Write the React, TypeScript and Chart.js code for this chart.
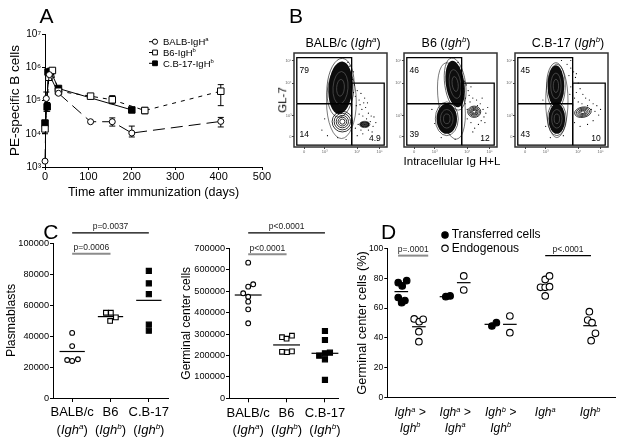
import React, { useEffect, useRef } from 'react';
import { Chart, registerables } from 'chart.js';

Chart.register(...registerables);

const FONT = "'Liberation Sans', Arial, Helvetica, sans-serif";
Chart.defaults.font.family = FONT;
Chart.defaults.color = '#000';

/* ====================== DATA ====================== */
// ---- Panel A : PE-specific B cells over time
const aSeriesNames = ['BALB-IgH', 'B6-IgH', 'C.B-17-IgH'];
const aSeriesSup = ['a', 'b', 'b'];
const aXTicks = [0, 100, 200, 300, 400, 500];
const aYTicks = [1e3, 1e4, 1e5, 1e6, 1e7];
const aBalbDays = [0, 3, 10, 31, 105, 155, 200, 405];
const aBalbVals = [1500, 115000, 600000, 165000, 23000, 23000, 10500, 23500];
const aBalbErrLo = [null, 48000, null, null, null, 17000, 8000, 16000];
const aBalbErrHi = [null, 180000, null, null, null, 30000, 17000, 31000];
const aB6Days = [0, 9, 17, 31, 105, 155, 230, 405];
const aB6Vals = [14000, 500000, 800000, 190000, 135000, 105000, 50000, 190000];
const aB6ErrLo = [10000, null, null, null, null, 80000, 40000, 70000];
const aB6ErrHi = [19000, null, null, null, null, 140000, 62000, 300000];
const aCb17Days = [0, 5, 7, 13, 31, 200];
const aCb17Vals = [21000, 65000, 720000, 750000, 230000, 52000];
const aCb17ErrLo = [13000, 47000, null, null, null, null];
const aCb17ErrHi = [null, 87000, null, null, null, null];

// ---- Panel B : flow cytometry (GL-7 vs intracellular Ig), arbitrary 0-100 units
const flowTitles = [
  { name: 'BALB/c', allele: 'a' },
  { name: 'B6', allele: 'b' },
  { name: 'C.B-17', allele: 'b' },
];
const flowGateTop = [[3, 46], [3, 95], [62, 95], [62, 46], [3, 46]];
const flowGateBottom = [[3, 46], [3, 2], [62, 2], [62, 46]];
const flowGateRight = [[62, 2], [62, 68], [97, 68], [97, 2], [62, 2]];
const flowTickPos = [11, 33, 68, 92];
const flowTickLabels = ['0', '10³', '10⁴', '10⁵'];
const flowPercents = [
  ['79', '14', '4.9'],
  ['46', '39', '12'],
  ['45', '43', '10'],
];
// [cx, cy, rx, ry, rotationDeg, kind(0 rings, 1 dense, 2 outline)]
const flowBlobs1 = [[51, 48, 16, 39, 0, 2], [50, 63, 13, 28, 4, 1], [52, 27, 11, 11, 0, 0], [76, 24, 5, 3, 0, 1]];
const flowBlobs2 = [[51, 49, 14, 41, -8, 2], [55, 67, 10, 25, -8, 1], [46, 30, 11, 16, 0, 1], [75.5, 37.5, 7, 6, 0, 0]];
const flowBlobs3 = [[45, 49, 12, 39, 0, 2], [44, 65, 9, 22, 0, 1], [45, 30, 9, 16, 0, 1], [73, 37, 9, 5.5, -10, 0]];
const flowDots1 = [[63, 72], [65, 66], [68, 60], [66, 54], [70, 50], [72, 57], [75, 47], [73, 40], [77, 42], [80, 36], [78, 30], [82, 27], [85, 22], [80, 18], [74, 14], [68, 12], [86, 32], [88, 26], [70, 35], [76, 52], [64, 80], [60, 86], [58, 90], [33, 30], [30, 18], [36, 12], [47, 10], [56, 8], [62, 14], [66, 20], [67, 44], [71, 45], [79, 47], [83, 33], [74, 33], [69, 24], [72, 18], [64, 58], [61, 64], [84, 16]];
const flowDots2 = [[63, 75], [65, 70], [67, 66], [64, 62], [69, 60], [72, 64], [70, 55], [66, 52], [74, 52], [78, 50], [82, 46], [85, 40], [86, 32], [83, 28], [80, 24], [72, 26], [68, 30], [76, 20], [88, 36], [90, 42], [60, 85], [58, 90], [30, 40], [33, 25], [40, 10], [55, 8], [66, 46], [68, 40], [71, 48], [64, 56], [62, 80], [79, 44], [84, 52], [87, 26], [74, 16]];
const flowDots3 = [[56, 88], [60, 84], [63, 80], [58, 76], [65, 74], [62, 70], [68, 68], [70, 62], [66, 58], [73, 56], [76, 52], [80, 50], [84, 46], [88, 44], [86, 38], [90, 34], [84, 28], [78, 24], [70, 22], [64, 26], [92, 40], [60, 92], [50, 92], [30, 50], [33, 22], [38, 10], [52, 12], [60, 64], [64, 52], [68, 48], [72, 46], [62, 44], [59, 56], [82, 40], [78, 44], [66, 78]];
const flowBlobs = [flowBlobs1, flowBlobs2, flowBlobs3];
const flowDots = [flowDots1, flowDots2, flowDots3];

// ---- Panel C : plasmablasts & germinal center cells
const cCategories = ['BALB/c', 'B6', 'C.B-17'];
const cAlleles = ['a', 'b', 'b'];
const cPlasmaBalb = [42000, 33500, 24500, 23900, 25000];
const cPlasmaBalbJit = [0, 0, -0.13, 0, 0.15];
const cPlasmaB6 = [55000, 55000, 52000, 49700];
const cPlasmaB6Jit = [-0.12, 0.01, 0.14, -0.01];
const cPlasmaCb17 = [82000, 74000, 67000, 47300, 43400];
const cPlasmaCb17Jit = [0, 0, 0, 0, 0];
const cPlasmaMeans = [30000, 52500, 63000];
const cPlasmaSigLabels = ['p=0.0037', 'p=0.0006'];
const cPlasmaSigFrom = [1, 1];
const cPlasmaSigTo = [3, 2];
const cPlasmaSigY = [106500, 93000];

const cGcBalb = [633000, 532000, 521000, 490000, 474000, 451000, 415000, 350000];
const cGcBalbJit = [0, 0.13, 0, -0.13, 0, 0, 0, 0];
const cGcB6 = [285000, 278000, 292000, 217000, 215000, 219000];
const cGcB6Jit = [-0.12, 0, 0.14, -0.12, 0.01, 0.14];
const cGcCb17 = [314000, 272000, 199000, 210000, 213000, 182000, 86000];
const cGcCb17Jit = [0, 0, -0.15, 0, 0.13, 0, 0];
const cGcMeans = [482000, 249000, 210000];
const cGcSigLabels = ['p<0.0001', 'p<0.0001'];
const cGcSigFrom = [1, 1];
const cGcSigTo = [3, 2];
const cGcSigY = [772000, 672000];

// ---- Panel D : germinal center cells (%)
const dLegendLabels = ['Transferred cells', 'Endogenous'];
const dGroupAlleles = [['a', 'b'], ['a', 'a'], ['b', 'b'], ['a', ''], ['b', '']];
const dPositions = [0.78, 1.76, 3.3, 4.26, 5.8, 6.83, 8.8, 11.3];
const dTransAB = [77.0, 78.3, 74.8, 67.0, 65.0, 63.6];
const dTransABJit = [-0.17, 0.3, 0.05, -0.17, 0.2, 0.02];
const dEndoAB = [52.7, 50.9, 52.5, 44.2, 37.5];
const dEndoABJit = [-0.26, 0.02, 0.24, 0, 0];
const dTransAA = [67.6, 68.1];
const dTransAAJit = [-0.04, 0.2];
const dEndoAA = [81.5, 72.1];
const dEndoAAJit = [0, 0];
const dTransBB = [48.0, 50.2];
const dTransBBJit = [0.03, 0.28];
const dEndoBB = [54.7, 43.5];
const dEndoBBJit = [0, 0];
const dIgha = [79.2, 81.5, 73.9, 73.9, 74.3, 68.1];
const dIghaJit = [0, 0.24, -0.26, 0, 0.24, 0];
const dIghb = [57.6, 52.0, 50.2, 43.1, 38.2];
const dIghbJit = [-0.04, -0.13, 0.11, 0.3, 0.06];
const dMeans = [71.0, 47.5, 67.6, 77.0, 49.1, 49.1, 75.2, 48.2];
const dSigLabels = ['p=.0001', 'p<.0001'];
const dSigFrom = [0.6, 8.8];
const dSigTo = [2.28, 11.35];
const dSigY = [95.1, 95.1];

/* ====================== HELPERS ====================== */
type Seg = { t: string; sup?: boolean; it?: boolean };
const SUPS = '⁰¹²³⁴⁵⁶⁷⁸⁹';

function segFont(size: number, s: Seg) {
  const sz = s.sup ? size * 0.62 : size;
  return `${s.it ? 'italic ' : ''}${sz}px ${FONT}`;
}

function drawRich(ctx: CanvasRenderingContext2D, segs: Seg[], x: number, y: number, size: number, align: 'left' | 'center' | 'right', color = '#000') {
  ctx.save();
  ctx.textBaseline = 'alphabetic';
  ctx.textAlign = 'left';
  ctx.fillStyle = color;
  let w = 0;
  for (const s of segs) {
    ctx.font = segFont(size, s);
    w += ctx.measureText(s.t).width;
  }
  let cx = align === 'left' ? x : align === 'center' ? x - w / 2 : x - w;
  for (const s of segs) {
    ctx.font = segFont(size, s);
    ctx.fillText(s.t, cx, s.sup ? y - size * 0.38 : y);
    cx += ctx.measureText(s.t).width;
  }
  ctx.restore();
}

function marker(ctx: CanvasRenderingContext2D, kind: string, x: number, y: number, r: number, fill: string, lw = 1) {
  ctx.save();
  ctx.beginPath();
  if (kind === 'circle') ctx.arc(x, y, r, 0, Math.PI * 2);
  else ctx.rect(x - r, y - r, 2 * r, 2 * r);
  ctx.fillStyle = fill;
  ctx.fill();
  ctx.lineWidth = lw;
  ctx.strokeStyle = '#000';
  ctx.stroke();
  ctx.restore();
}

function fixedTicks(vals: number[]) {
  return (s: any) => {
    s.ticks = vals.map((v) => ({ value: v }));
  };
}

/* ====================== PANEL A ====================== */
function makeA() {
  const ds = (i: number, days: number[], vals: number[], lo: any[], hi: any[], style: string, fill: string, dash: number[], r: number) => ({
    label: aSeriesNames[i],
    data: days.map((d, k) => ({ x: d, y: vals[k] })),
    errLo: lo,
    errHi: hi,
    borderColor: '#000',
    borderWidth: 1,
    borderDash: dash,
    pointStyle: style,
    pointRadius: r,
    pointBackgroundColor: fill,
    pointBorderColor: '#000',
    pointBorderWidth: 1,
    tension: 0,
    fill: false,
    clip: false,
  });
  const errorBars = {
    id: 'errA',
    beforeDatasetsDraw(chart: any) {
      const ctx = chart.ctx;
      const ys = chart.scales.y;
      chart.data.datasets.forEach((d: any, i: number) => {
        const meta = chart.getDatasetMeta(i);
        meta.data.forEach((pt: any, j: number) => {
          const lo = d.errLo[j];
          const hi = d.errHi[j];
          if (lo == null && hi == null) return;
          ctx.save();
          ctx.strokeStyle = '#000';
          ctx.lineWidth = 1;
          ctx.beginPath();
          for (const v of [lo, hi]) {
            if (v == null) continue;
            const yy = ys.getPixelForValue(v);
            ctx.moveTo(pt.x, pt.y);
            ctx.lineTo(pt.x, yy);
            ctx.moveTo(pt.x - 3, yy);
            ctx.lineTo(pt.x + 3, yy);
          }
          ctx.stroke();
          ctx.restore();
        });
      });
    },
  };
  const legend = {
    id: 'legA',
    afterDraw(chart: any) {
      const ctx = chart.ctx;
      const { left, top } = chart.chartArea;
      chart.data.datasets.forEach((d: any, i: number) => {
        const y = top + 7.7 + i * 10.8;
        const mx = left + 110;
        ctx.save();
        ctx.strokeStyle = '#000';
        ctx.lineWidth = 1;
        ctx.beginPath();
        ctx.moveTo(mx - 6, y);
        ctx.lineTo(mx, y);
        ctx.stroke();
        ctx.restore();
        marker(ctx, d.pointStyle, mx, y, d.pointStyle === 'circle' ? 2.6 : 2.4, d.pointBackgroundColor);
        drawRich(ctx, [{ t: aSeriesNames[i] }, { t: aSeriesSup[i], sup: true }], mx + 8, y + 3.4, 9.5, 'left');
      });
    },
  };
  return {
    type: 'line',
    data: {
      datasets: [
        ds(0, aBalbDays, aBalbVals, aBalbErrLo, aBalbErrHi, 'circle', '#fff', [12, 6], 3),
        ds(1, aB6Days, aB6Vals, aB6ErrLo, aB6ErrHi, 'rect', '#fff', [4, 5], 4.6),
        ds(2, aCb17Days, aCb17Vals, aCb17ErrLo, aCb17ErrHi, 'rect', '#000', [], 4.6),
      ],
    },
    options: {
      responsive: false,
      animation: false,
      events: [],
      layout: { padding: { left: 0, top: 34, right: 18, bottom: 0 } },
      plugins: { legend: { display: false }, tooltip: { enabled: false } },
      scales: {
        x: {
          type: 'linear',
          min: 0,
          max: 500,
          afterBuildTicks: fixedTicks(aXTicks),
          ticks: { font: { size: 11 }, padding: 0, maxRotation: 0, autoSkip: false, callback: (v: any) => String(v) },
          grid: { drawOnChartArea: false, tickLength: 3, color: '#000' },
          border: { color: '#000', width: 1 },
          title: { display: true, text: 'Time after immunization (days)', font: { size: 12.5 }, padding: { top: 0, bottom: 0 } },
          afterFit: (s: any) => { s.height = 33; },
        },
        y: {
          type: 'logarithmic',
          min: 1e3,
          max: 1e7,
          afterBuildTicks: fixedTicks(aYTicks),
          ticks: { font: { size: 10 }, padding: 1, callback: (v: any) => '10' + SUPS[Math.round(Math.log10(v))] },
          grid: { drawOnChartArea: false, tickLength: 3, color: '#000' },
          border: { color: '#000', width: 1 },
          title: { display: true, text: 'PE-specific B cells', font: { size: 13.5 }, padding: { top: 7, bottom: 0 } },
          afterFit: (s: any) => { s.width = 45; },
        },
      },
    },
    plugins: [errorBars, legend],
  };
}

/* ====================== PANEL B ====================== */
function makeFlow(idx: number) {
  const blobs = flowBlobs[idx];
  const pcts = flowPercents[idx];
  const gate = (pts: number[][]) => ({
    type: 'line',
    data: pts.map((p) => ({ x: p[0], y: p[1] })),
    borderColor: '#000',
    borderWidth: 1.3,
    pointRadius: 0,
    showLine: true,
    clip: false,
  });
  const blobPlugin = {
    id: 'blobs',
    beforeDatasetsDraw(chart: any) {
      const xs = chart.scales.x;
      const ys = chart.scales.y;
      const ctx = chart.ctx;
      for (const [cx, cy, rx, ry, rot, kind] of blobs) {
        const px = xs.getPixelForValue(cx);
        const py = ys.getPixelForValue(cy);
        const prx = Math.abs(xs.getPixelForValue(cx + rx) - px);
        const pry = Math.abs(ys.getPixelForValue(cy + ry) - py);
        const a = (rot * Math.PI) / 180;
        const ell = (s: number) => {
          ctx.beginPath();
          ctx.ellipse(px, py, prx * s, pry * s, a, 0, Math.PI * 2);
        };
        ctx.save();
        if (kind === 1) {
          ctx.strokeStyle = '#000';
          ctx.lineWidth = 0.6;
          ell(1.12); ctx.stroke();
          ell(1); ctx.fillStyle = '#0d0d0d'; ctx.fill();
          ctx.strokeStyle = '#666';
          ctx.lineWidth = 0.6;
          ell(0.62); ctx.stroke();
          ell(0.32); ctx.stroke();
        } else if (kind === 0) {
          ctx.strokeStyle = '#000';
          ctx.lineWidth = 0.8;
          for (const s of [1, 0.8, 0.6, 0.42, 0.25]) { ell(s); ctx.stroke(); }
        } else {
          ctx.strokeStyle = '#222';
          ctx.lineWidth = 0.6;
          ell(1); ctx.stroke();
        }
        ctx.restore();
      }
    },
  };
  const framePlugin = {
    id: 'frame',
    afterDraw(chart: any) {
      const ctx = chart.ctx;
      const { left, top, width, height } = chart.chartArea;
      const xs = chart.scales.x;
      const ys = chart.scales.y;
      ctx.save();
      ctx.strokeStyle = '#333';
      ctx.lineWidth = 1.5;
      ctx.strokeRect(left, top, width, height);
      ctx.font = `8.5px ${FONT}`;
      ctx.fillStyle = '#000';
      ctx.textBaseline = 'middle';
      ctx.textAlign = 'left';
      ctx.fillText(pcts[0], xs.getPixelForValue(6), ys.getPixelForValue(81));
      ctx.fillText(pcts[1], xs.getPixelForValue(6), ys.getPixelForValue(13));
      ctx.textAlign = 'center';
      ctx.fillText(pcts[2], xs.getPixelForValue(87), ys.getPixelForValue(9));
      ctx.restore();
    },
  };
  const tickCfg = {
    font: { size: 4 },
    color: '#666',
    padding: 0.5,
    autoSkip: false,
    maxRotation: 0,
    callback: (_v: any, i: number) => flowTickLabels[i],
  };
  return {
    type: 'scatter',
    data: {
      datasets: [
        {
          data: flowDots[idx].map((p) => ({ x: p[0], y: p[1] })),
          pointRadius: 0.6,
          pointBorderWidth: 0,
          pointBackgroundColor: '#000',
          clip: false,
        },
        gate(flowGateTop),
        gate(flowGateBottom),
        gate(flowGateRight),
      ],
    },
    options: {
      responsive: false,
      animation: false,
      events: [],
      layout: { padding: { left: 0, top: 8, right: 3, bottom: 0 } },
      plugins: { legend: { display: false }, tooltip: { enabled: false } },
      scales: {
        x: {
          type: 'linear', min: 0, max: 100,
          afterBuildTicks: fixedTicks(flowTickPos),
          ticks: tickCfg,
          grid: { drawOnChartArea: false, tickLength: 2, color: '#444' },
          border: { display: false },
          afterFit: (s: any) => { s.height = 10; },
        },
        y: {
          type: 'linear', min: 0, max: 100,
          afterBuildTicks: fixedTicks(flowTickPos),
          ticks: tickCfg,
          grid: { drawOnChartArea: false, tickLength: 2, color: '#444' },
          border: { display: false },
          afterFit: (s: any) => { s.width = 12; },
        },
      },
    },
    plugins: [blobPlugin, framePlugin],
  };
}

/* ====================== DOT PLOTS (C, D) ====================== */
interface Group { vals: number[]; jit: number[]; pos: number; style: string; fill: string; r: number }
interface DotCfg {
  groups: Group[];
  meanPos: number[];
  meanVals: number[];
  meanHalf: number;
  xMin: number; xMax: number; xTicks: number[]; xTickMarks: boolean;
  yMin: number; yMax: number; yStep: number; yTickSize: number;
  yWidth: number; xHeight: number; padTop: number; padRight: number;
  title: string; titleSize: number; titlePad: number;
  sigLabels: string[]; sigFrom: number[]; sigTo: number[]; sigY: number[]; sigGrey: boolean[];
  drawExtra: (chart: any) => void;
}

function makeDot(c: DotCfg) {
  const datasets: any[] = c.groups.map((g) => ({
    type: 'scatter',
    data: g.vals.map((v, i) => ({ x: g.pos + g.jit[i], y: v })),
    pointStyle: g.style,
    pointRadius: g.r,
    pointBackgroundColor: g.fill,
    pointBorderColor: '#000',
    pointBorderWidth: 1.1,
    showLine: false,
    clip: false,
  }));
  c.meanPos.forEach((p, i) => {
    datasets.push({
      type: 'line',
      data: [{ x: p - c.meanHalf, y: c.meanVals[i] }, { x: p + c.meanHalf, y: c.meanVals[i] }],
      borderColor: '#000',
      borderWidth: 1.2,
      pointRadius: 0,
      showLine: true,
      clip: false,
    });
  });
  const annot = {
    id: 'annot',
    afterDraw(chart: any) {
      const ctx = chart.ctx;
      const xs = chart.scales.x;
      const ys = chart.scales.y;
      c.sigLabels.forEach((lab, i) => {
        const x1 = xs.getPixelForValue(c.sigFrom[i]);
        const x2 = xs.getPixelForValue(c.sigTo[i]);
        const y = ys.getPixelForValue(c.sigY[i]);
        ctx.save();
        ctx.strokeStyle = c.sigGrey[i] ? '#8c8c8c' : '#000';
        ctx.lineWidth = c.sigGrey[i] ? 2 : 1.2;
        ctx.beginPath();
        ctx.moveTo(x1, y);
        ctx.lineTo(x2, y);
        ctx.stroke();
        ctx.font = `8.5px ${FONT}`;
        ctx.fillStyle = '#222';
        ctx.textAlign = 'center';
        ctx.textBaseline = 'alphabetic';
        ctx.fillText(lab, (x1 + x2) / 2, y - 3.5);
        ctx.restore();
      });
      c.drawExtra(chart);
    },
  };
  return {
    type: 'scatter',
    data: { datasets },
    options: {
      responsive: false,
      animation: false,
      events: [],
      layout: { padding: { left: 0, top: c.padTop, right: c.padRight, bottom: 0 } },
      plugins: { legend: { display: false }, tooltip: { enabled: false } },
      scales: {
        x: {
          type: 'linear', min: c.xMin, max: c.xMax,
          afterBuildTicks: fixedTicks(c.xTicks),
          ticks: { callback: () => '', padding: 0, autoSkip: false, maxRotation: 0 },
          grid: { drawOnChartArea: false, drawTicks: c.xTickMarks, tickLength: 4, color: '#000' },
          border: { color: '#000', width: 1 },
          afterFit: (s: any) => { s.height = c.xHeight; },
        },
        y: {
          type: 'linear', min: c.yMin, max: c.yMax,
          ticks: { stepSize: c.yStep, font: { size: c.yTickSize }, padding: 1, callback: (v: any) => String(v) },
          grid: { drawOnChartArea: false, tickLength: 3, color: '#000' },
          border: { color: '#000', width: 1 },
          title: { display: true, text: c.title, font: { size: c.titleSize }, padding: { top: c.titlePad, bottom: 0 } },
          afterFit: (s: any) => { s.width = c.yWidth; },
        },
      },
    },
    plugins: [annot],
  };
}

function drawCLabels(chart: any) {
  const ctx = chart.ctx;
  const xs = chart.scales.x;
  const b = chart.chartArea.bottom;
  cCategories.forEach((name, i) => {
    const x = xs.getPixelForValue(i + 1);
    drawRich(ctx, [{ t: name }], x, b + 18.4, 13, 'center');
    drawRich(ctx, [{ t: '(' }, { t: 'Igh', it: true }, { t: cAlleles[i], sup: true, it: true }, { t: ')' }], x, b + 36, 13, 'center');
  });
}

function makeC1() {
  return makeDot({
    groups: [
      { vals: cPlasmaBalb, jit: cPlasmaBalbJit, pos: 1, style: 'circle', fill: '#fff', r: 2.4 },
      { vals: cPlasmaB6, jit: cPlasmaB6Jit, pos: 2, style: 'rect', fill: '#fff', r: 3.3 },
      { vals: cPlasmaCb17, jit: cPlasmaCb17Jit, pos: 3, style: 'rect', fill: '#000', r: 3.6 },
    ],
    meanPos: [1, 2, 3], meanVals: cPlasmaMeans, meanHalf: 0.33,
    xMin: 0.5, xMax: 3.5, xTicks: [1, 2, 3], xTickMarks: true,
    yMin: 0, yMax: 100000, yStep: 20000, yTickSize: 9.2,
    yWidth: 53, xHeight: 42, padTop: 43, padRight: 17,
    title: 'Plasmablasts', titleSize: 12.3, titlePad: 4.6,
    sigLabels: cPlasmaSigLabels, sigFrom: cPlasmaSigFrom, sigTo: cPlasmaSigTo, sigY: cPlasmaSigY, sigGrey: [false, true],
    drawExtra: drawCLabels,
  });
}

function makeC2() {
  return makeDot({
    groups: [
      { vals: cGcBalb, jit: cGcBalbJit, pos: 1, style: 'circle', fill: '#fff', r: 2.4 },
      { vals: cGcB6, jit: cGcB6Jit, pos: 2, style: 'rect', fill: '#fff', r: 3.3 },
      { vals: cGcCb17, jit: cGcCb17Jit, pos: 3, style: 'rect', fill: '#000', r: 3.6 },
    ],
    meanPos: [1, 2, 3], meanVals: cGcMeans, meanHalf: 0.35,
    xMin: 0.5, xMax: 3.34, xTicks: [1, 2, 3], xTickMarks: true,
    yMin: 0, yMax: 700000, yStep: 100000, yTickSize: 9.2,
    yWidth: 54, xHeight: 41.7, padTop: 48.3, padRight: 22,
    title: 'Germinal center cells', titleSize: 12, titlePad: 4.6,
    sigLabels: cGcSigLabels, sigFrom: cGcSigFrom, sigTo: cGcSigTo, sigY: cGcSigY, sigGrey: [false, true],
    drawExtra: drawCLabels,
  });
}

function makeD() {
  const P = dPositions;
  const labelPos = [(P[0] + P[1]) / 2, (P[2] + P[3]) / 2, (P[4] + P[5]) / 2, P[6], P[7]];
  const drawExtra = (chart: any) => {
    const ctx = chart.ctx;
    const xs = chart.scales.x;
    const { left, top, bottom } = chart.chartArea;
    dGroupAlleles.forEach((g, i) => {
      const x = xs.getPixelForValue(labelPos[i]);
      if (g[1]) {
        drawRich(ctx, [{ t: 'Igh', it: true }, { t: g[0], sup: true, it: true }, { t: ' >', it: true }], x, bottom + 18.5, 12, 'center');
        drawRich(ctx, [{ t: 'Igh', it: true }, { t: g[1], sup: true, it: true }], x, bottom + 34.1, 12, 'center');
      } else {
        drawRich(ctx, [{ t: 'Igh', it: true }, { t: g[0], sup: true, it: true }], x, bottom + 18.5, 12, 'center');
      }
    });
    dLegendLabels.forEach((lab, i) => {
      const y = top - 13.3 + i * 13.3;
      const x = left + 57.7;
      marker(ctx, 'circle', x, y, 3.2, i === 0 ? '#000' : '#fff', 1.1);
      ctx.save();
      ctx.font = `12px ${FONT}`;
      ctx.fillStyle = '#000';
      ctx.textAlign = 'left';
      ctx.textBaseline = 'middle';
      ctx.fillText(lab, x + 6.7, y);
      ctx.restore();
    });
  };
  return makeDot({
    groups: [
      { vals: dTransAB, jit: dTransABJit, pos: P[0], style: 'circle', fill: '#000', r: 3.3 },
      { vals: dEndoAB, jit: dEndoABJit, pos: P[1], style: 'circle', fill: '#fff', r: 3.3 },
      { vals: dTransAA, jit: dTransAAJit, pos: P[2], style: 'circle', fill: '#000', r: 3.3 },
      { vals: dEndoAA, jit: dEndoAAJit, pos: P[3], style: 'circle', fill: '#fff', r: 3.3 },
      { vals: dTransBB, jit: dTransBBJit, pos: P[4], style: 'circle', fill: '#000', r: 3.3 },
      { vals: dEndoBB, jit: dEndoBBJit, pos: P[5], style: 'circle', fill: '#fff', r: 3.3 },
      { vals: dIgha, jit: dIghaJit, pos: P[6], style: 'circle', fill: '#fff', r: 3.3 },
      { vals: dIghb, jit: dIghbJit, pos: P[7], style: 'circle', fill: '#fff', r: 3.3 },
    ],
    meanPos: P, meanVals: dMeans, meanHalf: 0.38,
    xMin: 0, xMax: 12.74, xTicks: labelPos, xTickMarks: false,
    yMin: 0, yMax: 100, yStep: 20, yTickSize: 8.5,
    yWidth: 37.3, xHeight: 42.3, padTop: 48.3, padRight: 4.3,
    title: 'Germinal center cells (%)', titleSize: 12.8, titlePad: 4.8,
    sigLabels: dSigLabels, sigFrom: dSigFrom, sigTo: dSigTo, sigY: dSigY, sigGrey: [true, false],
    drawExtra,
  });
}

/* ====================== COMPONENTS ====================== */
function ChartBox({ left, top, width, height, make }: { left: number; top: number; width: number; height: number; make: () => any }) {
  const ref = useRef<HTMLCanvasElement>(null);
  useEffect(() => {
    const chart = new Chart(ref.current as HTMLCanvasElement, make());
    return () => chart.destroy();
  }, []);
  return (
    <div style={{ position: 'absolute', left, top, width, height }}>
      <canvas ref={ref} width={width} height={height} style={{ width, height, display: 'block' }} />
    </div>
  );
}

function Label({ x, y, size, rotate, children }: { x: number; y: number; size: number; rotate?: number; children: any }) {
  return (
    <div
      style={{
        position: 'absolute',
        left: x,
        top: y,
        transform: `translate(-50%, -50%)${rotate ? ` rotate(${rotate}deg)` : ''}`,
        fontSize: size,
        fontFamily: FONT,
        lineHeight: 1,
        whiteSpace: 'nowrap',
        color: '#000',
      }}
    >
      {children}
    </div>
  );
}

const FLOW_LEFTS = [294, 404, 515];
const FLOW_TITLE_X = [343, 446, 568];

export default function App() {
  return (
    <div style={{ position: 'absolute', left: 0, top: 0, width: 621, height: 440, background: '#fff', overflow: 'hidden', fontFamily: FONT }}>
      <ChartBox left={0} top={0} width={280} height={200} make={makeA} />
      {FLOW_LEFTS.map((l, i) => (
        <ChartBox key={i} left={l - 12} top={45} width={109} height={112} make={() => makeFlow(i)} />
      ))}
      <ChartBox left={0} top={200} width={185} height={240} make={makeC1} />
      <ChartBox left={175} top={200} width={185} height={240} make={makeC2} />
      <ChartBox left={350} top={200} width={271} height={240} make={makeD} />

      <Label x={46.5} y={14.5} size={21}>A</Label>
      <Label x={296} y={14.5} size={21}>B</Label>
      <Label x={50.8} y={230.5} size={21}>C</Label>
      <Label x={388.5} y={230.5} size={21}>D</Label>

      {flowTitles.map((t, i) => (
        <Label key={i} x={FLOW_TITLE_X[i]} y={42.5} size={12.5}>
          {t.name} (<i>Igh</i>
          <span style={{ fontSize: '0.62em', position: 'relative', top: '-0.6em', fontStyle: 'italic' }}>{t.allele}</span>)
        </Label>
      ))}
      <Label x={283} y={100} size={11.5} rotate={-90}>GL-7</Label>
      <Label x={452} y={161.5} size={11.5}>Intracellular Ig H+L</Label>
    </div>
  );
}
